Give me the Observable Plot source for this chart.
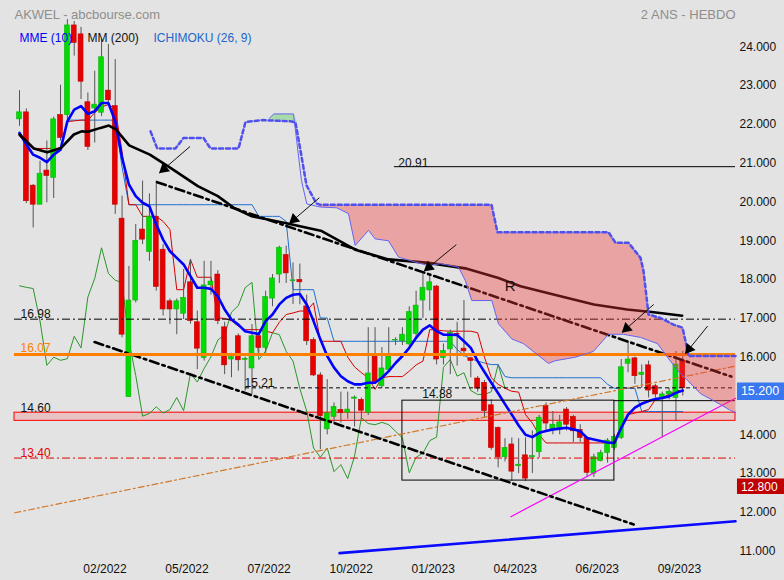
<!DOCTYPE html>
<html><head><meta charset="utf-8">
<script src="https://cdn.jsdelivr.net/npm/d3@7"></script>
<script src="https://cdn.jsdelivr.net/npm/@observablehq/plot@0.6"></script>
<style>
html,body{margin:0;padding:0;background:#e3e3e3;}
#chart{width:784px;height:580px;overflow:hidden;}
</style></head><body><div id="chart"></div>
<script>
// ---- weekly candles (index 0..97) ----
const candleOpen = [22.13,22.31,20.42,19.93,20.81,20.62,22.24,22.24,24.55,24.32,
22.57,22.41,22.30,22.87,22.47,19.57,14.97,17.46,19.29,18.71,
19.62,18.77,17.44,17.23,17.12,17.93,16.90,15.98,17.85,18.13,
16.77,15.94,16.54,15.93,15.71,16.54,16.24,17.51,18.13,18.63,
17.96,17.99,17.31,16.44,15.53,14.14,14.46,14.64,14.57,14.93,
14.90,14.57,16.01,15.25,15.67,16.43,16.41,16.33,16.60,17.46,
17.72,17.82,15.98,16.20,16.60,16.22,15.97,15.45,15.34,14.76,
14.18,13.42,13.75,13.19,13.47,13.42,13.55,14.74,14.11,14.18,
14.65,14.46,14.12,13.92,13.00,13.32,13.53,13.66,13.92,15.83,
15.97,15.54,15.79,15.25,14.97,15.04,14.95,15.91];
const candleHigh = [22.87,22.40,20.45,21.05,21.57,22.19,23.01,24.70,24.65,24.50,
22.81,23.37,24.20,24.06,23.67,20.15,18.34,19.42,20.54,20.21,
20.54,18.90,17.50,17.50,18.26,18.52,17.19,18.47,18.47,18.23,
16.90,16.10,16.60,16.00,16.84,16.60,17.70,18.13,18.86,18.86,
18.43,18.40,17.60,16.50,15.60,15.42,14.82,15.10,15.10,15.00,
14.95,16.76,16.76,16.25,16.76,16.50,16.76,17.30,17.70,18.17,
18.13,17.85,16.34,16.70,16.90,17.46,16.00,15.50,15.40,14.90,
14.20,13.90,13.92,13.90,13.92,14.10,14.50,14.82,14.60,14.50,
14.70,14.50,14.26,13.95,13.50,13.60,13.90,14.00,15.94,16.41,
16.00,15.80,15.90,15.30,15.10,15.20,16.15,16.15];
const candleLow = [21.95,19.96,19.33,19.93,19.98,20.09,21.57,22.10,23.76,22.64,
21.33,21.52,22.20,22.50,19.68,16.50,14.97,17.40,18.90,18.47,
17.70,17.06,16.84,16.58,16.97,16.85,15.68,15.90,17.60,16.84,
15.55,15.47,15.64,15.12,15.04,16.10,16.10,17.30,17.90,17.90,
17.36,17.35,16.30,15.50,13.62,14.00,14.30,14.30,14.40,14.20,
14.40,14.50,15.30,15.20,15.60,16.30,16.30,16.20,16.50,17.00,
17.19,15.80,15.80,15.55,15.77,16.00,15.47,15.10,14.44,13.60,
13.15,13.30,12.80,13.00,12.80,13.00,13.40,14.10,14.00,14.00,
14.10,13.80,13.80,12.90,12.90,13.30,13.27,13.60,13.88,15.60,
15.30,15.20,14.95,14.95,13.92,14.90,14.35,15.00];
const candleClose = [22.31,20.02,19.93,20.73,20.67,22.13,21.65,24.55,24.10,23.10,
21.42,22.51,23.73,22.62,19.93,16.58,17.46,19.00,19.03,19.62,
17.81,17.23,17.23,17.44,17.53,16.93,16.22,17.85,17.95,16.93,
15.79,16.00,15.92,15.96,16.54,16.24,17.55,18.03,18.82,18.16,
17.98,17.93,16.41,15.53,14.48,14.55,14.72,14.56,14.65,14.96,
14.62,15.58,15.36,15.71,16.01,16.44,16.58,17.16,17.33,17.79,
17.93,15.94,16.16,16.63,16.58,16.15,15.90,15.19,14.61,13.66,
13.42,13.66,13.05,13.23,12.87,13.45,14.44,14.29,14.26,14.32,
14.26,14.09,13.92,13.02,13.42,13.53,13.85,13.94,15.74,15.94,
15.51,15.60,15.14,15.04,15.04,15.11,15.81,15.20];

// ---- indicators ----
const mme10 = [21.78,21.48,21.22,21.14,21.03,21.22,21.35,22.08,22.38,22.47,
22.27,22.34,22.55,22.55,22.08,21.14,20.45,20.15,19.98,19.89,
19.42,19.03,18.73,18.56,18.39,18.09,17.79,17.79,17.76,17.57,
17.23,16.97,16.84,16.67,16.63,16.60,16.93,17.10,17.36,17.53,
17.61,17.63,17.36,16.93,16.46,16.03,15.73,15.51,15.38,15.30,
15.30,15.34,15.34,15.47,15.64,15.85,16.03,16.24,16.50,16.71,
16.82,16.67,16.58,16.58,16.57,16.41,16.24,15.90,15.62,15.34,
15.07,14.79,14.52,14.24,14.00,13.94,14.05,14.10,14.14,14.16,
14.18,14.14,14.09,13.92,13.88,13.84,13.80,13.79,14.18,14.52,
14.70,14.80,14.87,14.92,14.95,14.99,15.08,15.14];
// MM(200): points read on the curve [index, value]
const mm200 = [[0,21.74],[2.1,21.38],[4.05,21.28],[6.05,21.39],[7.95,21.74],[9.07,21.82],[10,21.81],
[11.85,21.91],[13.07,21.97],[14.09,21.87],[16.04,21.46],[19.06,21.22],[22.08,20.88],[26.08,20.41],
[29,20.15],[31.34,19.85],[33.98,19.63],[38.86,19.46],[44.2,19.25],[49.1,18.77],[53.96,18.52],
[59.81,18.43],[65.18,18.29],[70.05,18.04],[73.27,17.83],[79.12,17.57],[84,17.36],[88.87,17.23],
[92.77,17.16],[96.91,17.07]];
const tenkan = [21.70,21.50,21.38,21.38,21.38,21.38,21.38,22.07,22.09,22.11,
22.11,22.30,22.45,22.51,22.40,21.30,19.93,19.93,19.63,19.63,
19.63,19.50,19.29,17.74,17.74,18.52,18.06,18.06,18.06,17.01,
17.00,16.94,16.80,16.71,16.71,16.71,16.67,16.63,16.90,17.10,
17.14,17.19,17.19,17.40,16.41,16.41,16.41,16.41,16.00,15.75,
15.60,15.47,15.17,15.47,15.50,15.50,15.50,15.64,15.80,15.90,
16.71,16.70,16.68,16.67,16.67,16.67,16.67,16.63,16.00,15.47,
15.30,15.20,15.12,15.10,14.52,14.30,14.00,13.79,13.79,13.79,
13.79,13.79,13.79,13.79,13.79,13.79,13.79,13.84,14.26,14.52,
14.56,14.60,14.65,14.91,14.95,15.05,15.14,15.14];
const kijunStart = 7;
const kijun = [22.11,22.11,22.11,22.11,22.11,22.11,22.11,22.11,20.90,
19.93,19.93,19.93,19.93,19.93,19.93,19.93,19.93,19.93,19.93,19.93,19.93,19.93,19.93,19.93,19.93,19.93,19.93,19.93,
19.63,19.63,19.63,19.63,19.50,17.74,17.74,17.74,17.74,17.01,17.01,
16.41,16.41,16.41,16.41,16.41,16.41,16.41,16.41,16.41,16.41,16.41,16.41,16.41,16.41,16.41,16.41,16.41,16.41,
16.20,16.05,15.96,15.90,15.85,15.81,15.81,15.50,
15.47,15.47,15.47,15.47,15.47,15.47,15.47,15.47,15.47,15.47,15.47,15.47,15.47,15.47,
15.30,15.20,15.20,15.20,15.20,14.60,14.60,14.60,14.60,14.60,14.60,14.60];
const chikou = [17.84,17.80,17.77,16.93,15.79,16.00,15.92,15.96,16.54,16.24,
17.55,18.03,18.82,18.16,17.98,17.93,16.41,15.53,14.48,14.55,
14.72,14.56,14.65,14.96,14.62,15.58,15.36,15.71,16.01,16.44,
16.58,17.16,17.33,17.79,17.93,15.94,16.16,16.63,16.58,16.15,
15.90,15.19,14.61,13.66,13.42,13.66,13.05,13.23,12.87,13.45,
14.44,14.29,14.26,14.32,14.26,14.09,13.92,13.02,13.42,13.53,
13.85,13.94,15.74,15.94,15.51,15.60,15.14,15.04,15.04,15.11,
15.81,15.20];
// Senkou B (dashed) and Senkou A (thin), points read [index, value]
const senkouB = [[19.16,21.82],[20.14,21.38],[22.81,21.38],[23.98,21.65],[26.91,21.65],[27.93,21.38],
[32.03,21.38],[33.05,22.06],[35.54,22.11],[39.63,22.08],[40.36,22.05],[41.09,21.33],[41.97,20.43],
[43.43,19.96],[44.0,19.93],[69.03,19.93],[69.9,19.22],[86.14,19.22],[87.16,18.95],[89.06,18.95],
[90.82,18.56],[91.26,18.22],[91.99,17.10],[93.74,17.01],[95.64,16.84],[96.96,16.76],[97.4,16.41],
[97.84,16.03],[104.71,16.03]];
const senkouA = [[36.5,22.15],[37.2,22.27],[40.07,22.27],[41.24,20.55],[42.02,19.95],[43.98,19.87],
[46.4,19.85],[48.11,19.70],[49.09,18.88],[51.04,19.27],[52.0,19.05],[53.96,19.00],[55.43,18.58],
[57.87,18.45],[59.81,18.36],[61.52,18.41],[64.2,18.32],[65.18,17.98],[66.14,17.46],[69.07,17.46],
[70.05,16.86],[72.0,16.47],[73.7,16.35],[77.36,15.84],[78.38,15.91],[81.31,16.0],[83.94,16.15],
[86.14,16.59],[88.33,16.59],[90.82,16.51],[93.3,16.35],[94.77,16.0],[96.23,15.66],[97.7,15.4],
[99.6,15.06],[101.5,14.88],[103.98,14.63],[104.71,14.57]];

// ---- annotations ----
const levelValues = [16.98, 16.07, 13.40];
const levelLabels = ["16.98", "16.07", "13.40"];
const bandLow = 14.36, bandHigh = 14.57, bandLabel = "14.60";
const level1521 = 15.21, level1488 = 14.88, level2091 = 20.91;
const boxLow = 12.82;
const lastPrice = 15.20, lowPrice = 12.80;
// trend lines [fromIndex, fromValue, toIndex, toValue]
const channelTop = [20.13, 20.51, 104.1, 15.50];
const channelBottom = [10.98, 16.39, 89.83, 11.69];
const supportOrange = [-0.69, 11.99, 104.71, 15.77];
const supportMagenta = [71.85, 11.89, 104.71, 14.94];
const supportBlue = [46.81, 10.95, 104.71, 11.77];
// arrows [tailIndex, tailValue, tipIndex, tipValue]
const arrowList = [[24.94,21.43,20.46,20.75],[43.85,20.11,39.48,19.45],[63.88,18.90,59.17,18.22],
[92.75,17.36,88.13,16.64],[100.63,16.80,97.37,16.09]];
const xTickPos = [12.5,24.5,36.5,48.5,60.5,72.5,84.5,96.5];
const xTickLabels = ["02/2022","05/2022","07/2022","10/2022","01/2023","04/2023","06/2023","09/2023"];
const yTicks = [11,12,13,14,16,17,18,19,20,21,22,23,24];

// ---- build ----
const PXI = 6.838, PXV = 38.8;
const LEFT = -0.73, RIGHT = 104.71;
const candles = candleOpen.map((o,i)=>({i, open:o, high:candleHigh[i], low:candleLow[i], close:candleClose[i]}));
const GREEN = "#00dc00", RED = "#e60000";
const seg = a => [[a[0],a[1]],[a[2],a[3]]];
const cloudPoly = senkouB.filter(d=>d[0]>=43.4).concat(senkouA.filter(d=>d[0]>=43.9).slice().reverse());
const greenPoly = [[36.5,22.12],[37.2,22.27],[40.07,22.27],[40.6,22.05],[39.63,22.08],[36.5,22.12]];
const arrows = arrowList.map(([a,b,c,d])=>{
  const dx=(c-a)*PXI, dy=-(d-b)*PXV, L=Math.hypot(dx,dy), ux=dx/L, uy=dy/L;
  return {x1:a,y1:b,x2:c,y2:d, cx:c-6*ux/PXI, cy:d+6*uy/PXV, rot:Math.atan2(ux,-uy)*180/Math.PI};
});
const tickMap = new Map(xTickPos.map((p,k)=>[p,xTickLabels[k]]));
const dashdot = "8,3,2,3", bigdashdot = "9,4,2.5,4";

const chart = Plot.plot({
  width: 784, height: 580,
  marginLeft: 0, marginRight: 49, marginTop: 0, marginBottom: 25,
  style: {background:"#e3e3e3", fontFamily:"'Liberation Sans', Arial, sans-serif", fontSize:"12px", color:"#111"},
  x: {domain:[-2.779, 104.71], ticks: xTickPos, tickFormat: d=>tickMap.get(d), tickSize:0, tickPadding:9, label:null},
  y: {domain:[10.889, 25.193], axis:"right", ticks: yTicks, tickFormat: d3.format(".3f"), tickSize:0, tickPadding:4, label:null},
  marks: [
    // band zone
    Plot.rect([0], {x1:LEFT, x2:RIGHT, y1:bandLow, y2:bandHigh, fill:"red", fillOpacity:0.14, stroke:"#ff0000", strokeWidth:1}),
    // chikou, kijun, tenkan
    Plot.line(chikou.map((v,i)=>[i,v]), {stroke:"#2a962a", strokeWidth:1}),
    Plot.line(kijun.map((v,k)=>[k+kijunStart,v]), {stroke:"#1f6fd0", strokeWidth:1}),
    Plot.line(tenkan.map((v,i)=>[i,v]), {stroke:"#d80000", strokeWidth:1}),
    // candles
    Plot.ruleX(candles, {x:"i", y1:"low", y2:"high", stroke:"#555", strokeWidth:1}),
    Plot.rect(candles, {x1:d=>d.i-0.36, x2:d=>d.i+0.36, y1:"open", y2:"close",
      fill:d=>d.close>=d.open?GREEN:RED, stroke:d=>d.close>=d.open?"#10b010":"#c00000", strokeWidth:0.6}),
    // moving averages
    Plot.line(mme10.map((v,i)=>[i,v]), {stroke:"#0000ff", strokeWidth:2.6}),
    Plot.line(mm200, {stroke:"#000", strokeWidth:2.6}),
    // horizontal levels
    Plot.ruleY([levelValues[0]], {x1:LEFT, x2:RIGHT, stroke:"#000", strokeWidth:1, strokeDasharray:dashdot}),
    Plot.ruleY([levelValues[2]], {x1:LEFT, x2:RIGHT, stroke:"#e00000", strokeWidth:1, strokeDasharray:dashdot}),
    Plot.ruleY([level1521], {x1:33.05, x2:RIGHT, stroke:"#000", strokeWidth:1, strokeDasharray:"4,3"}),
    Plot.ruleY([level2091], {x1:54.83, x2:RIGHT, stroke:"#000", strokeWidth:1}),
    Plot.rect([0], {x1:56.0, x2:87.0, y1:boxLow, y2:level1488, stroke:"#000", strokeWidth:1, fill:"none"}),
    Plot.ruleY([level1488], {x1:87.0, x2:RIGHT, stroke:"#000", strokeWidth:1}),
    // trend lines
    Plot.line(seg(supportOrange), {stroke:"#d2782a", strokeWidth:1.2, strokeDasharray:"6,3,2,3"}),
    Plot.line(seg(supportMagenta), {stroke:"#ff00ff", strokeWidth:1.2}),
    Plot.line(seg(supportBlue), {stroke:"#0a0aff", strokeWidth:2.6}),
    Plot.line(seg(channelTop), {stroke:"#000", strokeWidth:2.6, strokeDasharray:bigdashdot}),
    Plot.line(seg(channelBottom), {stroke:"#000", strokeWidth:2.6, strokeDasharray:bigdashdot}),
    Plot.ruleY([levelValues[1]], {x1:LEFT, x2:RIGHT, stroke:"#ff8000", strokeWidth:3}),
    // ichimoku cloud
    Plot.line(greenPoly, {fill:"#3cc83c", fillOpacity:0.35, stroke:"none"}),
    Plot.line(cloudPoly, {fill:"rgb(243,54,54)", fillOpacity:0.37, stroke:"none"}),
    Plot.line(senkouA, {stroke:"#6464f0", strokeWidth:1}),
    Plot.line(senkouB, {stroke:"#5050ee", strokeWidth:2.5, strokeDasharray:"4,3"}),
    // arrows
    Plot.link(arrows, {x1:"x1", y1:"y1", x2:"x2", y2:"y2", stroke:"#111", strokeWidth:1}),
    Plot.dot(arrows, {x:"cx", y:"cy", symbol:"triangle", r:4.2, rotate:"rot", fill:"#000", stroke:"none"}),
    // level labels
    Plot.text([levelValues[0]], {x:0.15, y:d=>d, text:[levelLabels[0]], dy:-5, textAnchor:"start", fill:"#111", fontSize:12}),
    Plot.text([levelValues[1]], {x:0.15, y:d=>d, text:[levelLabels[1]], dy:-6, textAnchor:"start", fill:"#ff8000", fontSize:12}),
    Plot.text([bandHigh], {x:0.15, y:d=>d, text:[bandLabel], dy:-5, textAnchor:"start", fill:"#111", fontSize:12}),
    Plot.text([levelValues[2]], {x:0.15, y:d=>d, text:[levelLabels[2]], dy:-5, textAnchor:"start", fill:"#e00000", fontSize:12}),
    Plot.text([level1521], {x:32.9, y:d=>d, text:["15.21"], dy:-5, textAnchor:"start", fill:"#111", fontSize:12}),
    Plot.text([level1488], {x:58.9, y:d=>d, text:["14.88"], dy:-6, textAnchor:"start", fill:"#111", fontSize:12}),
    Plot.text([level2091], {x:55.4, y:d=>d, text:["20.91"], dy:-4, textAnchor:"start", fill:"#111", fontSize:12}),
    Plot.text(["R"], {x:71.76, y:17.84, fill:"#111", fontSize:15}),
    // price tags
    Plot.ruleY([lastPrice], {x1:105.0, x2:111.9, stroke:"#3a78f2", strokeWidth:17.5, dy:3}),
    Plot.text([lastPrice], {x:105.5, y:d=>d, text:d=>d3.format(".3f")(d), dy:3, textAnchor:"start", fill:"#fff", fontSize:12.5}),
    Plot.ruleY([lowPrice], {x1:105.0, x2:111.9, stroke:"#c00000", strokeWidth:15.5, dy:5}),
    Plot.text([lowPrice], {x:105.5, y:d=>d, text:d=>d3.format(".3f")(d), dy:6, textAnchor:"start", fill:"#fff", fontSize:12}),
    // header & legend
    Plot.text(["AKWEL - abcbourse.com"], {frameAnchor:"top-left", dx:14, dy:9, textAnchor:"start", fill:"#8e8e8e", fontSize:13}),
    Plot.text(["2 ANS - HEBDO"], {frameAnchor:"top-right", dx:0, dy:9, textAnchor:"end", fill:"#8e8e8e", fontSize:13}),
    Plot.text(["MME (10)"], {frameAnchor:"top-left", dx:19, dy:33, textAnchor:"start", fill:"#0000ff", fontSize:12}),
    Plot.text(["MM (200)"], {frameAnchor:"top-left", dx:87, dy:33, textAnchor:"start", fill:"#111", fontSize:12}),
    Plot.text(["ICHIMOKU (26, 9)"], {frameAnchor:"top-left", dx:153, dy:33, textAnchor:"start", fill:"#2266cc", fontSize:12})
  ]
});
document.getElementById("chart").appendChild(chart);
</script></body></html>
